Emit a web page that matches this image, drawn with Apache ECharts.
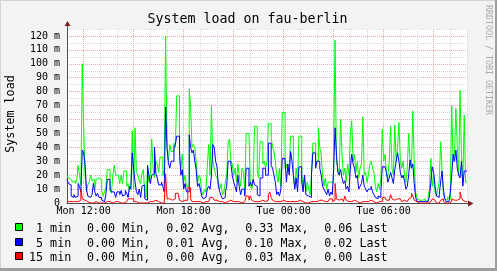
<!DOCTYPE html>
<html><head><meta charset="utf-8">
<script src="https://cdn.jsdelivr.net/npm/echarts@6/dist/echarts.min.js"></script>
<style>html,body{margin:0;padding:0;background:#f3f3f3;overflow:hidden}#c{width:497px;height:271px}</style>
</head><body><div id="c"></div>
<script>
// time axis: hours since Mon 00:00, one value per 5 minutes starting Mon 11:00
const START_HOUR = 11;
const STEP_HOURS = 5 / 60;
const xTickHours = [12, 18, 24, 30];
const xTickLabels = ['Mon 12:00', 'Mon 18:00', 'Tue 00:00', 'Tue 06:00'];
const yMax = 125;
// values in milli-load (m)
const load1 = [
 20,18,17,18,15,16,14,16,27,20,13,100,
 55,20,8,13,15,20,16,17,10,17,18,17,
 17,9,5,8,12,24,24,9,7,20,27,20,
 20,20,14,20,14,23,23,12,14,8,14,52,
 10,54,22,20,16,14,21,24,6,4,25,15,
 19,46,25,18,30,28,22,33,33,20,24,120,
 40,30,42,37,37,43,40,77,77,30,25,35,
 15,20,12,12,82,69,40,42,40,30,15,20,
 18,8,6,10,8,26,42,20,70,30,25,20,
 18,15,10,14,6,8,15,20,43,46,30,28,
 20,25,15,28,20,12,25,22,10,50,50,50,
 13,10,15,55,55,23,18,44,44,28,30,25,
 30,57,57,47,40,37,30,20,15,25,12,65,
 65,25,28,22,25,48,48,20,12,25,15,48,
 48,20,12,20,8,15,10,6,20,43,43,30,
 30,54,40,35,20,12,18,10,15,15,14,15,
 40,117,30,25,20,60,35,20,25,15,28,20,
 50,59,30,35,22,30,18,25,28,62,20,22,
 15,20,28,30,25,22,12,8,14,10,18,53,
 30,35,20,18,30,55,25,20,56,30,40,58,
 30,25,30,20,15,25,50,30,25,66,28,8,
 3,2,1,2,1,3,1,2,5,10,32,12,
 20,8,5,10,15,44,25,6,3,2,4,3,
 10,70,30,35,68,40,20,81,35,15,63,15
];
const load5 = [
 17,14,13,5,4,6,4,5,14,12,8,38,
 36,28,10,5,4,5,6,14,8,5,7,4,
 4,2,1,2,6,17,17,10,8,8,8,4,
 8,8,6,9,5,6,9,7,4,12,10,36,
 24,15,8,6,10,4,12,13,3,2,27,20,
 14,20,21,40,21,18,13,13,15,12,8,69,
 40,29,25,30,30,40,42,48,48,38,20,24,
 10,14,8,8,49,40,36,38,30,24,12,14,
 10,5,3,4,3,10,12,10,20,42,40,30,
 26,12,8,5,3,4,8,12,30,30,28,20,
 15,12,8,20,12,6,10,10,5,25,25,12,
 15,12,17,13,12,6,5,18,18,25,25,20,
 20,43,43,27,25,20,15,6,8,5,10,32,
 32,30,15,28,20,37,30,20,10,18,8,26,
 26,15,8,20,6,5,6,4,20,36,36,25,
 30,30,25,20,12,10,8,6,10,5,8,6,
 25,54,35,22,20,24,18,14,16,10,12,8,
 25,35,28,25,18,20,10,12,14,20,12,10,
 8,10,10,12,8,6,4,3,5,4,8,26,
 26,26,22,15,18,22,18,14,24,30,36,30,
 22,18,20,16,10,12,20,31,25,28,14,4,
 1,1,0,1,0,1,0,1,2,5,15,26,
 22,12,5,4,6,15,23,10,3,1,1,1,
 8,20,35,30,38,25,20,18,30,12,23,23
];
const load15 = [
 1,1,1,1,1,1,0,1,1,2,10,3,
 2,1,1,0,0,1,0,0,1,0,0,0,
 0,0,0,0,1,1,1,0,0,0,1,1,
 1,1,0,1,0,1,1,0,3,3,3,3,
 1,1,1,0,0,0,1,0,0,0,1,1,
 1,1,1,2,1,1,1,0,1,0,1,21,
 3,3,3,2,2,3,7,7,7,2,1,1,
 2,1,2,11,11,3,1,1,2,1,1,1,
 1,0,0,1,0,1,2,4,4,5,2,2,
 1,1,1,1,0,0,1,1,2,2,1,1,
 1,1,1,1,1,0,1,1,1,5,5,2,
 5,2,1,2,1,1,1,1,2,2,1,2,
 2,6,8,4,2,1,2,1,1,1,1,2,
 1,1,2,1,1,1,2,1,1,1,1,2,
 1,1,1,0,1,0,1,1,2,1,1,1,
 1,2,2,2,1,1,1,1,1,3,3,1,
 2,14,3,2,2,3,2,1,5,2,1,1,
 1,2,2,1,1,1,0,1,1,2,1,1,
 1,1,2,1,1,0,0,0,1,1,1,4,
 4,3,2,2,3,6,3,2,3,3,4,3,
 2,1,2,1,1,1,3,4,7,5,2,1,
 0,0,0,0,0,0,0,0,0,1,2,3,
 2,1,0,0,1,2,3,1,0,0,0,0,
 1,3,2,1,2,1,3,8,4,2,1,1
];
const seriesNames = [' 1 min', ' 5 min', '15 min'];
const seriesColors = ['#00ff00', '#0000ff', '#ff0000'];
const legendMin = ['0.00', '0.00', '0.00'];
const legendAvg = ['0.02', '0.01', '0.00'];
const legendMax = ['0.33', '0.10', '0.03'];
const legendLast = ['0.06', '0.02', '0.00'];

const FONT = '"DejaVu Sans Mono", monospace';
const toData = arr => {
  const d = arr.map((v, i) => [START_HOUR + i * STEP_HOURS, v]);
  d.push([START_HOUR + arr.length * STEP_HOURS, arr[arr.length - 1]]);
  return d;
};

const gridLeft = 67, gridTop = 29, gridW = 400, gridH = 174;
const GRAY = '#d9d9d9', PINK = '#e6aaaa';

const graphics = [
  { type: 'rect', shape: { x: 0, y: 0, width: 497, height: 1 }, style: { fill: '#d4d4d4' }, silent: true },
  { type: 'rect', shape: { x: 0, y: 0, width: 1, height: 271 }, style: { fill: '#d4d4d4' }, silent: true },
  { type: 'rect', shape: { x: 495, y: 0, width: 2, height: 271 }, style: { fill: '#9e9e9e' }, silent: true },
  { type: 'rect', shape: { x: 0, y: 268, width: 497, height: 3 }, style: { fill: '#9e9e9e' }, silent: true },
  { type: 'text', x: 247.5, y: 20, style: { text: 'System load on fau-berlin', font: '13.3px ' + FONT, fill: '#000', align: 'center', verticalAlign: 'middle' } },
  { type: 'text', x: 11, y: 114, rotation: Math.PI / 2, style: { text: 'System load', font: '11.7px ' + FONT, fill: '#000', align: 'center', verticalAlign: 'middle' } },
  { type: 'text', x: 488.5, y: 60, rotation: -Math.PI / 2, style: { text: 'RRDTOOL / TOBI OETIKER', font: '8.3px ' + FONT, fill: '#aaaaaa', align: 'center', verticalAlign: 'middle' } },
  { type: 'line', shape: { x1: 67.5, y1: 29, x2: 67.5, y2: 25 }, style: { stroke: '#505050', lineWidth: 1 } },
  { type: 'polygon', shape: { points: [[64.5, 26], [70.5, 26], [67.5, 21]] }, style: { fill: '#7f1f1f' }, z: 10 },
  { type: 'line', shape: { x1: 467, y1: 203.5, x2: 469, y2: 203.5 }, style: { stroke: '#7f1f1f', lineWidth: 1 } },
  { type: 'polygon', shape: { points: [[468, 200.5], [468, 206.5], [473.5, 203.5]] }, style: { fill: '#7f1f1f' }, z: 10 }
];
const rowY = [229, 243.5, 257.5];
const boxY = [223.5, 238.5, 252.5];
const colX = [87, 166.2, 245.2, 324.2];
for (let k = 0; k < 3; k++) {
  graphics.push({ type: 'rect', shape: { x: 15.5, y: boxY[k], width: 7, height: 7 }, style: { fill: seriesColors[k], stroke: '#000', lineWidth: 1 } });
  const pieces = [
    [29, seriesNames[k]],
    [colX[0], legendMin[k] + ' Min,'],
    [colX[1], legendAvg[k] + ' Avg,'],
    [colX[2], legendMax[k] + ' Max,'],
    [colX[3], legendLast[k] + ' Last']
  ];
  pieces.forEach(p => graphics.push({ type: 'text', x: p[0], y: rowY[k], style: { text: p[1], font: '11.7px ' + FONT, fill: '#000', align: 'left', verticalAlign: 'middle' } }));
}

const chart = echarts.init(document.getElementById('c'), null, { renderer: 'canvas' });
chart.setOption({
  animation: false,
  backgroundColor: '#f3f3f3',
  grid: { left: gridLeft, top: gridTop, width: gridW, height: gridH, show: true, backgroundColor: '#ffffff', borderWidth: 0, containLabel: false },
  xAxis: {
    type: 'value', min: 11, max: 35, interval: 1,
    axisLine: { show: true, lineStyle: { color: '#505050', width: 1 } },
    axisTick: { show: false },
    axisLabel: {
      margin: 3, fontFamily: FONT, fontSize: 10, color: '#000',
      formatter: v => { const k = xTickHours.indexOf(Math.round(v * 1000) / 1000); return k >= 0 ? xTickLabels[k] : ''; }
    },
    splitLine: { show: true, lineStyle: { color: [GRAY, PINK, GRAY], width: 1, type: [1, 1] } }
  },
  yAxis: {
    type: 'value', min: 0, max: yMax, interval: 5,
    axisLine: { show: true, lineStyle: { color: '#505050', width: 1 } },
    axisTick: { show: false },
    axisLabel: {
      margin: 7, fontFamily: FONT, fontSize: 10, color: '#000',
      formatter: v => (v % 10 === 0 ? (v === 0 ? '0' : v + ' m') : '')
    },
    splitLine: { show: true, lineStyle: { color: [PINK, GRAY], width: 1, type: [1, 1] } }
  },
  series: [load1, load5, load15].map((arr, k) => ({
    type: 'line', name: seriesNames[k].trim(), step: 'end', symbol: 'none', showSymbol: false,
    data: toData(arr), lineStyle: { color: seriesColors[k], width: 1 }, itemStyle: { color: seriesColors[k] },
    z: 2 + k, clip: true, silent: true
  })),
  graphic: graphics
});
</script></body></html>
